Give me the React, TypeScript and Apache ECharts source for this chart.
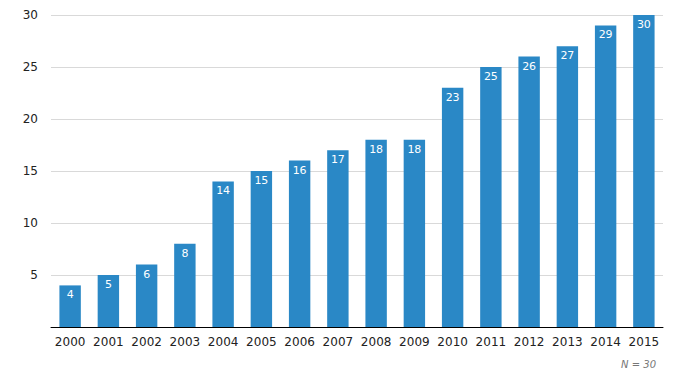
import React, { useEffect, useRef } from "react";
import * as echarts from "echarts";

const years = ["2000","2001","2002","2003","2004","2005","2006","2007","2008","2009","2010","2011","2012","2013","2014","2015"];
const counts = [4,5,6,8,14,15,16,17,18,18,23,25,26,27,29,30];
const noteText = "N = 30";

export default function App() {
  const ref = useRef<HTMLDivElement>(null);
  useEffect(() => {
    const chart = echarts.init(ref.current!, null, { renderer: "svg" });
    const font = "DejaVu Sans, Verdana, sans-serif";
    chart.setOption({
      animation: false,
      textStyle: { fontFamily: font },
      grid: { left: 51, right: 12, top: 15, bottom: 63, containLabel: false },
      xAxis: {
        type: "category",
        data: years,
        axisLine: { lineStyle: { color: "#000", width: 1 } },
        axisTick: { show: false },
        axisLabel: { color: "#222", fontSize: 12, fontFamily: font, margin: 9, interval: 0 },
      },
      yAxis: {
        type: "value",
        min: 0,
        max: 30,
        interval: 5,
        axisLine: { show: false },
        axisTick: { show: false },
        axisLabel: {
          color: "#222",
          fontSize: 12,
          fontFamily: font,
          margin: 13,
          formatter: (v: number) => (v === 0 ? "" : String(v)),
        },
        splitLine: { lineStyle: { color: "#d9d9d9", width: 1 } },
      },
      series: [
        {
          type: "bar",
          data: counts,
          barWidth: "56%",
          itemStyle: { color: "#2a88c6" },
          label: {
            show: true,
            position: "insideTop",
            distance: 4,
            color: "#fff",
            fontSize: 11,
            fontFamily: font,
          },
        },
      ],
      graphic: [
        {
          type: "text",
          right: 19,
          top: 359,
          style: {
            text: noteText,
            fill: "#777",
            fontSize: 10,
            fontStyle: "italic",
            fontFamily: font,
          },
        },
      ],
    });
    return () => chart.dispose();
  }, []);
  return (
    <div
      ref={ref}
      style={{ position: "absolute", left: 0, top: 0, width: 675, height: 390 }}
    />
  );
}
